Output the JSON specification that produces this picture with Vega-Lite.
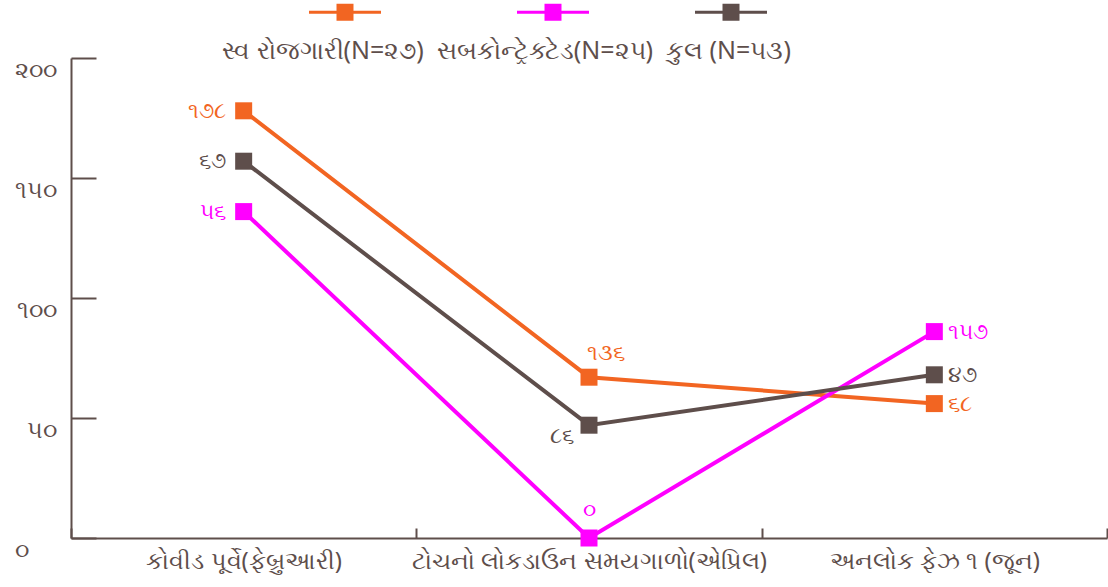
{
  "$schema": "https://vega.github.io/schema/vega-lite/v6.json",
  "width": 1036,
  "height": 480,
  "autosize": {"type": "none"},
  "padding": {"left": 71, "top": 58, "right": 1, "bottom": 49},
  "background": "white",
  "config": {
    "view": {"stroke": null},
    "font": "Noto Sans",
    "axis": {"grid": false, "domainColor": "#5e4e4b", "tickColor": "#5e4e4b", "labelColor": "#5e4e4b", "domainWidth": 2, "tickWidth": 2, "labelFont": "Noto Sans", "labelFontSize": 24, "title": null}
  },
  "title": {
    "text": "સ્વ રોજગારી(N=૨૭)\u00a0 સબકોન્ટ્રેક્ટેડ(N=૨૫)\u00a0 કુલ (N=૫૩)",
    "anchor": "start",
    "frame": "group",
    "dx": 151,
    "dy": 108,
    "offset": 0,
    "baseline": "alphabetic",
    "fontSize": 25,
    "fontWeight": "normal",
    "color": "#5e4e4b",
    "font": "Noto Sans"
  },
  "data": {
    "values": [
      {"period": "કોવીડ પૂર્વે(ફેબ્રુઆરી)", "series": "સ્વ રોજગારી(N=૨૭)", "value": 178, "label": "૧૭૮"},
      {"period": "ટોચનો લોકડાઉન સમયગાળો(એપ્રિલ)", "series": "સ્વ રોજગારી(N=૨૭)", "value": 67, "label": "૧૩૬"},
      {"period": "અનલોક ફેઝ ૧ (જૂન)", "series": "સ્વ રોજગારી(N=૨૭)", "value": 56, "label": "૬૮"},
      {"period": "કોવીડ પૂર્વે(ફેબ્રુઆરી)", "series": "સબકોન્ટ્રેક્ટેડ(N=૨૫)", "value": 136, "label": "૫૬"},
      {"period": "ટોચનો લોકડાઉન સમયગાળો(એપ્રિલ)", "series": "સબકોન્ટ્રેક્ટેડ(N=૨૫)", "value": 0, "label": "૦"},
      {"period": "અનલોક ફેઝ ૧ (જૂન)", "series": "સબકોન્ટ્રેક્ટેડ(N=૨૫)", "value": 86, "label": "૧૫૭"},
      {"period": "કોવીડ પૂર્વે(ફેબ્રુઆરી)", "series": "કુલ (N=૫૩)", "value": 157, "label": "૬૭"},
      {"period": "ટોચનો લોકડાઉન સમયગાળો(એપ્રિલ)", "series": "કુલ (N=૫૩)", "value": 47, "label": "૮૬"},
      {"period": "અનલોક ફેઝ ૧ (જૂન)", "series": "કુલ (N=૫૩)", "value": 68, "label": "૪૭"}
    ]
  },
  "encoding": {
    "x": {
      "field": "period",
      "type": "nominal",
      "sort": ["કોવીડ પૂર્વે(ફેબ્રુઆરી)", "ટોચનો લોકડાઉન સમયગાળો(એપ્રિલ)", "અનલોક ફેઝ ૧ (જૂન)"],
      "scale": {"type": "band", "paddingInner": 0, "paddingOuter": 0},
      "axis": {"labelAngle": 0, "tickBand": "extent", "tickSize": -10, "labelPadding": 21, "labelLimit": 400}
    },
    "y": {
      "field": "value",
      "type": "quantitative",
      "scale": {"domain": [0, 200], "nice": false},
      "axis": {
        "values": [0, 50, 100, 150, 200],
        "tickSize": -25,
        "labelPadding": {"condition": {"test": "datum.value == 0", "value": 68}, "value": 40},
        "labelBaseline": "top",
        "labelExpr": "replace(replace(replace(replace(replace(datum.label, '0', '૦'), '0', '૦'), '1', '૧'), '2', '૨'), '5', '૫')"
      }
    },
    "color": {
      "field": "series",
      "type": "nominal",
      "scale": {
        "domain": ["સ્વ રોજગારી(N=૨૭)", "સબકોન્ટ્રેક્ટેડ(N=૨૫)", "કુલ (N=૫૩)"],
        "range": ["#f26522", "#ff00ff", "#5e4e4b"]
      },
      "legend": {
        "orient": "none",
        "legendX": 238,
        "legendY": -82,
        "direction": "horizontal",
        "title": null,
        "symbolType": "M-1,-0.042H1V0.042H-1Z M-0.236,-0.236H0.236V0.236H-0.236Z",
        "symbolSize": 5184,
        "labelOffset": 0,
        "labelFontSize": 10,
        "labelFont": "DejaVu Sans",
        "labelExpr": "datum.label == 'સ્વ રોજગારી(N=૨૭)' ? '\u2800\u2800\u2800\u2800' : ''",
        "columnPadding": 106,
        "encode": {"symbols": {"update": {"fill": {"scale": "color", "field": "value"}, "fillOpacity": {"value": 1}, "strokeWidth": {"value": 0}}}}
      }
    }
  },
  "layer": [
    {"mark": {"type": "line", "strokeWidth": 4}},
    {"mark": {"type": "point", "shape": "square", "filled": true, "size": 289, "opacity": 1}},
    {
      "transform": [{"filter": "datum.period == 'કોવીડ પૂર્વે(ફેબ્રુઆરી)'"}],
      "mark": {"type": "text", "align": "right", "baseline": "middle", "dx": -18, "fontSize": 22},
      "encoding": {"text": {"field": "label"}}
    },
    {
      "transform": [{"filter": "datum.period == 'અનલોક ફેઝ ૧ (જૂન)'"}],
      "mark": {"type": "text", "align": "left", "baseline": "middle", "dx": 14, "fontSize": 22},
      "encoding": {"text": {"field": "label"}}
    },
    {
      "transform": [{"filter": "datum.period == 'ટોચનો લોકડાઉન સમયગાળો(એપ્રિલ)' && datum.series == 'સ્વ રોજગારી(N=૨૭)'"}],
      "mark": {"type": "text", "align": "center", "baseline": "middle", "dx": 17, "dy": -24, "fontSize": 22},
      "encoding": {"text": {"field": "label"}}
    },
    {
      "transform": [{"filter": "datum.period == 'ટોચનો લોકડાઉન સમયગાળો(એપ્રિલ)' && datum.series == 'કુલ (N=૫૩)'"}],
      "mark": {"type": "text", "align": "center", "baseline": "middle", "dx": -27, "dy": 11, "fontSize": 22},
      "encoding": {"text": {"field": "label"}}
    },
    {
      "transform": [{"filter": "datum.period == 'ટોચનો લોકડાઉન સમયગાળો(એપ્રિલ)' && datum.series == 'સબકોન્ટ્રેક્ટેડ(N=૨૫)'"}],
      "mark": {"type": "text", "align": "center", "baseline": "middle", "dy": -28, "fontSize": 22},
      "encoding": {"text": {"field": "label"}}
    }
  ]
}
